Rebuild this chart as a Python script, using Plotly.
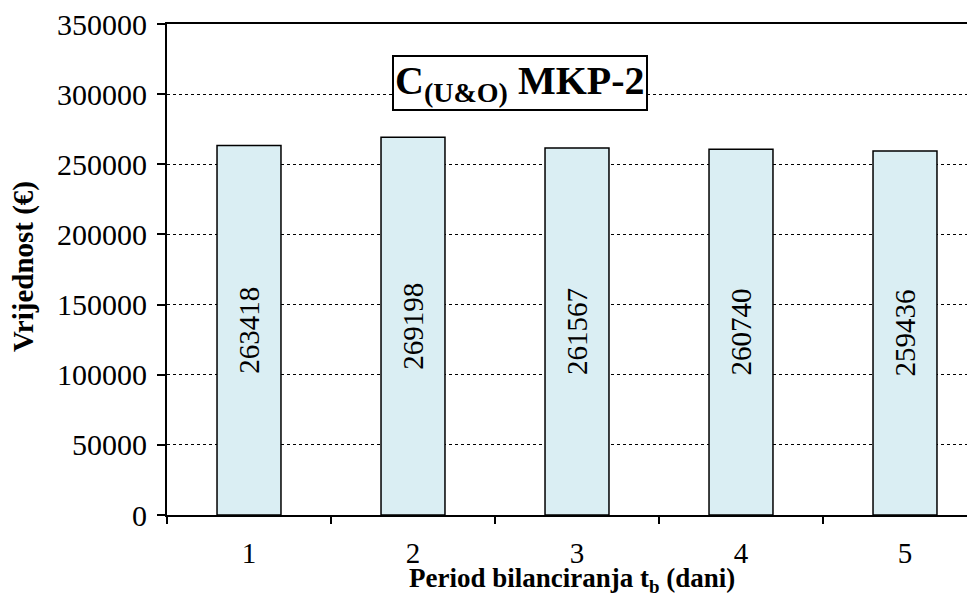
import plotly.graph_objects as go

categories = ["1", "2", "3", "4", "5"]
values = [263418, 269198, 261567, 260740, 259436]
y_ticks = [0, 50000, 100000, 150000, 200000, 250000, 300000, 350000]
y_tick_labels = [str(v) for v in y_ticks]

FONT = "Liberation Serif"
OFF = 8  # page body offset in screenshot

# desired screen geometry (figure drawn at OFF,OFF on the page)
W, H = 975 - OFF, 597 - OFF
L, T, B = 167 - OFF, 24 - OFF, 515 - OFF
PW, PH = W - L, B - T

fig = go.Figure()
fig.add_trace(go.Bar(
    x=categories, y=values,
    text=[str(v) for v in values],
    textposition="inside", textangle=-90, insidetextanchor="middle",
    textfont=dict(family=FONT, size=29, color="black"),
    constraintext="none",
    marker=dict(color="#DAEEF3", line=dict(color="black", width=1.5)),
    width=0.39,
))

fig.update_layout(
    width=W, height=H,
    margin=dict(l=L, r=0, t=T, b=H - B),
    paper_bgcolor="white", plot_bgcolor="white",
    showlegend=False,
    font=dict(family=FONT, color="black"),
    xaxis=dict(
        type="category", range=[-0.5, -0.5 + PW / 164], automargin=False,
        showline=True, linecolor="black", linewidth=2, mirror=True,
        ticks="outside", tickson="boundaries", ticklen=7, tickwidth=2, tickcolor="black",
        tickfont=dict(family=FONT, size=29), ticklabelstandoff=11,
        ticklabeloverflow="allow",
        showgrid=False,
    ),
    yaxis=dict(
        range=[0, 350000], tickvals=y_ticks, ticktext=y_tick_labels, automargin=False,
        showline=True, linecolor="black", linewidth=2,
        ticks="outside", ticklen=8, tickwidth=2, tickcolor="black",
        tickfont=dict(family=FONT, size=30), ticklabelstandoff=4,
        ticklabeloverflow="allow",
        showgrid=True, gridcolor="black", gridwidth=1, griddash="dot",
        zeroline=False,
    ),
)


def px(xs):
    return (xs - OFF - L) / PW


def py(ys):
    return (B - (ys - OFF)) / PH


# axis titles
fig.add_annotation(
    xref="paper", yref="paper", x=px(572), y=py(580),
    text="<b>Period bilanciranja t<sub>b</sub> (dani)</b>", showarrow=False,
    font=dict(family=FONT, size=27, color="black"), yanchor="middle", xanchor="center",
)
fig.add_annotation(
    xref="paper", yref="paper", x=px(23), y=py(267),
    text="<b>Vrijednost (€)</b>", showarrow=False, textangle=-90,
    font=dict(family=FONT, size=29, color="black"), yanchor="middle", xanchor="center",
)

fig.add_annotation(
    xref="paper", yref="paper", x=px(520), y=py(83),
    text="<b>C<sub>(U&amp;O)</sub> MKP-2</b>",
    showarrow=False, font=dict(family=FONT, size=40, color="black"),
    bgcolor="white", bordercolor="black", borderwidth=2, borderpad=1,
    xanchor="center", yanchor="middle",
)

fig.write_html("out.html")
